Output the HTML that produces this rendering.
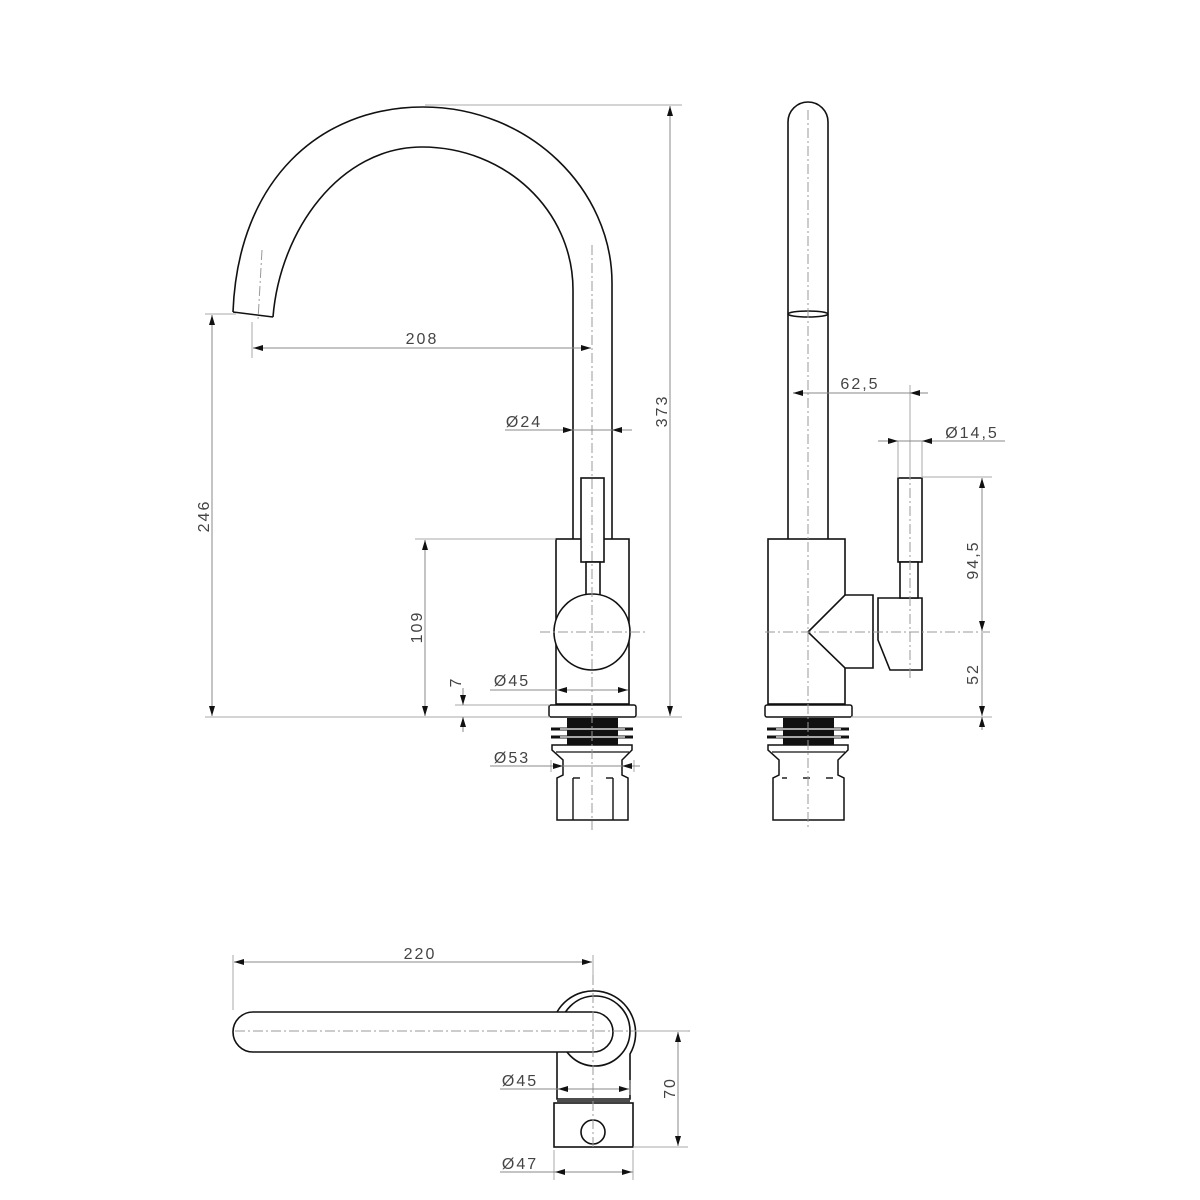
<!DOCTYPE html>
<html><head><meta charset="utf-8"><style>html,body{margin:0;padding:0;background:#fff}svg{display:block}</style></head><body>
<svg width="1200" height="1200" viewBox="0 0 1200 1200" xmlns="http://www.w3.org/2000/svg">
<defs>
<marker id="a" viewBox="0 0 10 6" refX="10" refY="3" markerWidth="10" markerHeight="6" markerUnits="userSpaceOnUse" orient="auto-start-reverse"><path d="M0,0 L10,3 L0,6 z" fill="#111"/></marker>
<g id="base">
<rect x="549" y="705" width="87" height="12" rx="2" fill="#fff" stroke="#111" stroke-width="1.5"/>
<rect x="567" y="718" width="51" height="27" fill="#111"/>
<line x1="551" y1="729" x2="633" y2="729" stroke="#111" stroke-width="3"/>
<line x1="551" y1="737" x2="633" y2="737" stroke="#111" stroke-width="3"/>
<line x1="560" y1="729" x2="625" y2="729" stroke="#fff" stroke-width="1.2"/>
<line x1="560" y1="737" x2="625" y2="737" stroke="#fff" stroke-width="1.2"/>
<path d="M552,745 L632,745 L632,750 L622,760 L622,775 L628,778 L628,820 L557,820 L557,778 L563,775 L563,760 L552,750 Z" fill="#fff" stroke="#111" stroke-width="1.5"/>
<line x1="556" y1="752" x2="629" y2="752" stroke="#111" stroke-width="1.2"/>
</g>
</defs>
<g fill="none" stroke="#111" stroke-width="1.6">
<path d="M233,312 C238,180 320,107 423,107 C530,107 612,190 612,283 L612,539"/>
<path d="M273,317 C280,230 340,147 422,147 C505,147 573,210 573,290 L573,539"/>
<line x1="233" y1="312" x2="273" y2="317"/>
<rect x="556" y="539" width="73" height="165" fill="#fff"/>
<rect x="581" y="478" width="23" height="84" fill="#fff"/>
<rect x="586" y="562" width="14" height="40" fill="#fff"/>
<circle cx="592" cy="632" r="38" fill="#fff"/>
</g>
<use href="#base"/>
<g stroke="#111" stroke-width="1.4" fill="none">
<line x1="573" y1="778" x2="573" y2="820"/><line x1="613" y1="778" x2="613" y2="820"/>
<line x1="573" y1="778" x2="580" y2="778"/><line x1="606" y1="778" x2="613" y2="778"/>
</g>
<!-- side view -->
<g fill="none" stroke="#111" stroke-width="1.6">
<path d="M788,539 L788,122 A20,20 0 0 1 828,122 L828,539"/>
<ellipse cx="808" cy="314" rx="20" ry="3"/>
<rect x="768" y="539" width="77" height="165" fill="#fff"/>
<path d="M845,595 L873,595 L873,668 L845,668 L808,632 Z" fill="#fff"/>
<path d="M878,598 L922,598 L922,670 L890,670 L878,640 Z" fill="#fff"/>
<rect x="898" y="478" width="24" height="84" fill="#fff"/>
<rect x="900" y="562" width="18" height="36" fill="#fff"/>
</g>
<use href="#base" transform="translate(216,0)"/>
<g stroke="#111" stroke-width="1.4"><line x1="782" y1="778" x2="787" y2="778"/><line x1="803" y1="778" x2="810" y2="778"/><line x1="826" y1="778" x2="833" y2="778"/></g>
<!-- top view -->
<g fill="none" stroke="#111" stroke-width="1.6">
<path d="M557,1012 A42,42 0 1 1 630,1054 L630,1099 L557,1099 L557,1052"/>
<circle cx="595" cy="1031" r="35"/>
<path d="M253,1012 L593,1012 A20,20 0 0 1 593,1052 L253,1052 A20,20 0 0 1 253,1012 Z" fill="#fff"/>
<line x1="557" y1="1101" x2="630" y2="1101"/>
<rect x="554" y="1103" width="79" height="44"/>
<circle cx="593" cy="1132" r="12"/>
</g>
<!-- center lines -->
<g stroke="#999" stroke-width="1" stroke-dasharray="10,3,2,3" fill="none">
<line x1="592" y1="245" x2="592" y2="830"/>
<line x1="262" y1="250" x2="258" y2="320"/>
<line x1="540" y1="632" x2="648" y2="632"/>
<line x1="808" y1="110" x2="808" y2="830"/>
<line x1="910" y1="470" x2="910" y2="680"/>
<line x1="765" y1="632" x2="990" y2="632"/>
<line x1="235" y1="1031" x2="690" y2="1031"/>
<line x1="593" y1="975" x2="593" y2="1150"/>
</g>
<!-- dimension lines -->
<g stroke="#aaa" stroke-width="1" fill="none">
<line x1="425" y1="105" x2="682" y2="105"/><line x1="636" y1="717" x2="682" y2="717"/>
<line x1="205" y1="314" x2="236" y2="314"/><line x1="205" y1="717" x2="550" y2="717"/>
<line x1="415" y1="539" x2="556" y2="539"/>
<line x1="455" y1="705" x2="550" y2="705"/>
<line x1="252" y1="322" x2="252" y2="358"/>
<line x1="551" y1="760" x2="551" y2="772"/><line x1="634" y1="760" x2="634" y2="772"/>
<line x1="910" y1="385" x2="910" y2="478"/>
<line x1="898" y1="441" x2="898" y2="478"/><line x1="922" y1="441" x2="922" y2="478"/>
<line x1="922" y1="477" x2="992" y2="477"/><line x1="851" y1="717" x2="992" y2="717"/>
<line x1="233" y1="955" x2="233" y2="1010"/><line x1="593" y1="955" x2="593" y2="975"/>
<line x1="633" y1="1031" x2="688" y2="1031"/><line x1="633" y1="1147" x2="688" y2="1147"/>
<line x1="554" y1="1150" x2="554" y2="1180"/><line x1="633" y1="1150" x2="633" y2="1180"/>
<line x1="630" y1="1080" x2="630" y2="1095"/>
</g>
<g stroke="#888" stroke-width="1" fill="none">
<line x1="670" y1="106" x2="670" y2="716" marker-start="url(#a)" marker-end="url(#a)"/>
<line x1="212" y1="315" x2="212" y2="716" marker-start="url(#a)" marker-end="url(#a)"/>
<line x1="253" y1="348" x2="591" y2="348" marker-start="url(#a)" marker-end="url(#a)"/>
<line x1="505" y1="430" x2="573" y2="430" marker-end="url(#a)"/><line x1="632" y1="430" x2="612" y2="430" marker-end="url(#a)"/><line x1="573" y1="430" x2="612" y2="430"/>
<line x1="425" y1="540" x2="425" y2="716" marker-start="url(#a)" marker-end="url(#a)"/>
<line x1="463" y1="688" x2="463" y2="705" marker-end="url(#a)"/><line x1="463" y1="732" x2="463" y2="717" marker-end="url(#a)"/>
<line x1="490" y1="690" x2="628" y2="690"/><line x1="570" y1="690" x2="557" y2="690" marker-end="url(#a)"/><line x1="615" y1="690" x2="628" y2="690" marker-end="url(#a)"/>
<line x1="490" y1="766" x2="636" y2="766"/><line x1="540" y1="766" x2="563" y2="766" marker-end="url(#a)"/><line x1="640" y1="766" x2="622" y2="766" marker-end="url(#a)"/>
<line x1="793" y1="393" x2="928" y2="393"/><line x1="805" y1="393" x2="793" y2="393" marker-end="url(#a)"/><line x1="925" y1="393" x2="910" y2="393" marker-end="url(#a)"/>
<line x1="878" y1="441" x2="1005" y2="441"/><line x1="880" y1="441" x2="898" y2="441" marker-end="url(#a)"/><line x1="940" y1="441" x2="922" y2="441" marker-end="url(#a)"/>
<line x1="982" y1="478" x2="982" y2="631" marker-start="url(#a)" marker-end="url(#a)"/>
<line x1="982" y1="633" x2="982" y2="716" marker-end="url(#a)"/><line x1="982" y1="730" x2="982" y2="717" marker-end="url(#a)"/>
<line x1="234" y1="962" x2="592" y2="962" marker-start="url(#a)" marker-end="url(#a)"/>
<line x1="500" y1="1089" x2="630" y2="1089"/><line x1="570" y1="1089" x2="558" y2="1089" marker-end="url(#a)"/><line x1="615" y1="1089" x2="629" y2="1089" marker-end="url(#a)"/>
<line x1="678" y1="1032" x2="678" y2="1146" marker-start="url(#a)" marker-end="url(#a)"/>
<line x1="500" y1="1172" x2="633" y2="1172"/><line x1="570" y1="1172" x2="555" y2="1172" marker-end="url(#a)"/><line x1="618" y1="1172" x2="632" y2="1172" marker-end="url(#a)"/>
</g>
<g font-family="Liberation Sans, sans-serif" font-size="16" fill="#444" letter-spacing="2">
<text x="422" y="344" text-anchor="middle">208</text>
<text x="524" y="427" text-anchor="middle">Ø24</text>
<text x="512" y="686" text-anchor="middle">Ø45</text>
<text x="512" y="763" text-anchor="middle">Ø53</text>
<text transform="translate(667,411) rotate(-90)" text-anchor="middle">373</text>
<text transform="translate(209,516) rotate(-90)" text-anchor="middle">246</text>
<text transform="translate(422,627) rotate(-90)" text-anchor="middle">109</text>
<text transform="translate(461,682) rotate(-90)" text-anchor="middle">7</text>
<text x="860" y="389" text-anchor="middle">62,5</text>
<text x="972" y="438" text-anchor="middle">Ø14,5</text>
<text transform="translate(978,560) rotate(-90)" text-anchor="middle">94,5</text>
<text transform="translate(978,674) rotate(-90)" text-anchor="middle">52</text>
<text x="420" y="959" text-anchor="middle">220</text>
<text x="520" y="1086" text-anchor="middle">Ø45</text>
<text transform="translate(675,1088) rotate(-90)" text-anchor="middle">70</text>
<text x="520" y="1169" text-anchor="middle">Ø47</text>
</g>
</svg>
</body></html>
